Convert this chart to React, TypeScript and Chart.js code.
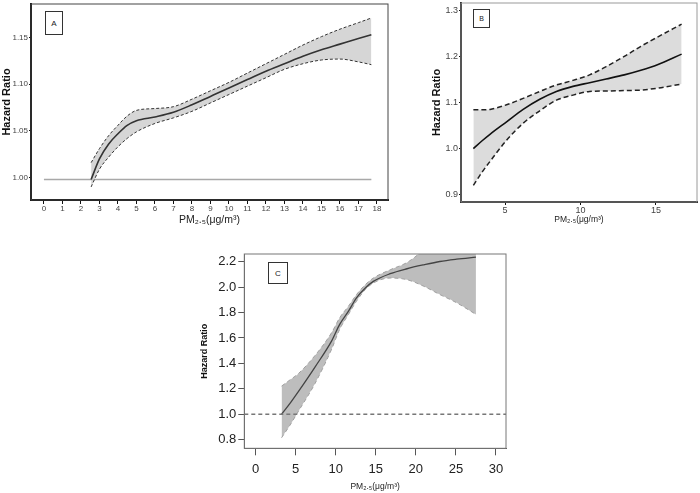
import React, { useEffect, useRef } from 'react';
import { Chart, registerables } from 'chart.js';

Chart.register(...registerables);
Chart.defaults.font.family = '"Liberation Sans", Arial, sans-serif';

// ---------- Panel A ----------
const aX = [2.55, 3, 3.5, 4, 4.5, 5, 6, 7, 8, 9, 10, 11, 12, 13, 14, 15, 16, 17, 17.7];
const aFit = [0.998, 1.020, 1.036, 1.047, 1.056, 1.061, 1.065, 1.070, 1.078, 1.087, 1.096, 1.105, 1.114, 1.122, 1.130, 1.137, 1.143, 1.149, 1.153];
const aUpper = [1.016, 1.031, 1.045, 1.056, 1.066, 1.072, 1.074, 1.076, 1.084, 1.093, 1.102, 1.112, 1.122, 1.132, 1.142, 1.151, 1.159, 1.166, 1.171];
const aLower = [0.990, 1.009, 1.022, 1.033, 1.042, 1.049, 1.058, 1.064, 1.071, 1.080, 1.089, 1.098, 1.107, 1.116, 1.122, 1.126, 1.127, 1.124, 1.121];
const aRefX = [0, 17.7];
const aRefY = [0.998, 0.998];
const aXTicks = [0, 1, 2, 3, 4, 5, 6, 7, 8, 9, 10, 11, 12, 13, 14, 15, 16, 17, 18];
const aYTicks = [1.0, 1.05, 1.1, 1.15];

// ---------- Panel B ----------
const bX = [2.9, 3.5, 4.0, 5.1, 6.2, 7.3, 8.4, 9.5, 10.6, 11.7, 12.9, 14.0, 15.1, 16.7];
const bFit = [1.000, 1.0175, 1.031, 1.058, 1.085, 1.107, 1.124, 1.135, 1.143, 1.151, 1.160, 1.170, 1.182, 1.205];
const bUpper = [1.084, 1.084, 1.085, 1.095, 1.109, 1.124, 1.138, 1.148, 1.160, 1.178, 1.200, 1.222, 1.242, 1.270];
const bLower = [0.920, 0.950, 0.972, 1.018, 1.055, 1.082, 1.105, 1.116, 1.124, 1.125, 1.126, 1.127, 1.131, 1.140];
const bXTicks = [5, 10, 15];
const bYTicks = [0.9, 1.0, 1.1, 1.2, 1.3];

// ---------- Panel C ----------
const cX = [3.25, 4.3, 5.3, 7.4, 9.5, 10.5, 11.6, 12.6, 13.7, 14.7, 16.8, 18.9, 21.0, 23.0, 25.1, 27.5];
const cFit = [1.000, 1.085, 1.174, 1.369, 1.577, 1.707, 1.811, 1.915, 1.993, 2.045, 2.105, 2.144, 2.175, 2.201, 2.219, 2.235];
const cUpper = [1.221, 1.270, 1.317, 1.460, 1.642, 1.759, 1.850, 1.941, 2.019, 2.071, 2.136, 2.193, 2.290, 2.380, 2.470, 2.600];
const cLower = [0.815, 0.914, 1.018, 1.239, 1.512, 1.668, 1.785, 1.889, 1.980, 2.032, 2.071, 2.058, 2.006, 1.941, 1.876, 1.785];
const cRef = 1.0;
const cXTicks = [0, 5, 10, 15, 20, 25, 30];
const cYTicks = [0.8, 1.0, 1.2, 1.4, 1.6, 1.8, 2.0, 2.2];

const xTitle = 'PM₂.₅(μg/m³)';
const yTitle = 'Hazard Ratio';

const pts = (xs: number[], ys: number[]) => xs.map((x, i) => ({ x, y: ys[i] }));

type PanelSpec = {
  w: number; h: number;
  pad: { left: number; right: number; top: number; bottom: number };
  yWidth: number; xHeight: number;
  xMin: number; xMax: number; yMin: number; yMax: number;
  xTicks: number[]; yTicks: number[]; yDec: number;
  tickSize: number; tickColor: string;
  xTickLen: number; xTickPad: number; yTickLen: number; yTickPad: number;
  yTitleSize: number; yTitlePad: number; xTitleSize: number; xTitlePad: number;
  axisWidth: number; axisColor: string; frameColor: string; frameWidth: number;
  datasets: any[];
  hline?: { value: number; color: string; dash: number[]; width: number };
};

function makeConfig(p: PanelSpec): any {
  const fixTicks = (list: number[]) => (s: any) => {
    s.ticks = list.map((v) => ({ value: v }));
  };
  const framePlugin = {
    id: 'frame',
    afterDatasetsDraw(chart: any) {
      const { ctx, chartArea: a, scales } = chart;
      if (p.hline) {
        const y = scales.y.getPixelForValue(p.hline.value);
        ctx.save();
        ctx.strokeStyle = p.hline.color;
        ctx.lineWidth = p.hline.width;
        ctx.setLineDash(p.hline.dash);
        ctx.beginPath();
        ctx.moveTo(a.left, y);
        ctx.lineTo(a.right, y);
        ctx.stroke();
        ctx.restore();
      }
    },
    afterDraw(chart: any) {
      const { ctx, chartArea: a } = chart;
      ctx.save();
      ctx.strokeStyle = p.frameColor;
      ctx.lineWidth = p.frameWidth;
      ctx.strokeRect(a.left, a.top, a.right - a.left, a.bottom - a.top);
      ctx.restore();
    },
  };
  return {
    type: 'line',
    data: { datasets: p.datasets },
    plugins: [framePlugin],
    options: {
      animation: false,
      responsive: false,
      devicePixelRatio: 1,
      layout: { padding: p.pad },
      plugins: { legend: { display: false }, tooltip: { enabled: false } },
      elements: { point: { radius: 0 } },
      scales: {
        x: {
          type: 'linear',
          min: p.xMin,
          max: p.xMax,
          afterBuildTicks: fixTicks(p.xTicks),
          afterFit: (s: any) => {
            s.height = p.xHeight;
            s.paddingLeft = 0; s.paddingRight = 0; s.paddingTop = 0; s.paddingBottom = 0;
          },
          ticks: {
            autoSkip: false, maxRotation: 0, padding: p.xTickPad,
            color: p.tickColor, font: { size: p.tickSize },
            callback: (v: any) => String(v),
          },
          grid: { drawOnChartArea: false, drawTicks: true, tickLength: p.xTickLen, color: p.axisColor },
          border: { display: true, width: p.axisWidth, color: p.axisColor },
          title: {
            display: true, text: xTitle, color: '#222',
            font: { size: p.xTitleSize }, padding: { top: 0, bottom: p.xTitlePad },
          },
        },
        y: {
          type: 'linear',
          min: p.yMin,
          max: p.yMax,
          afterBuildTicks: fixTicks(p.yTicks),
          afterFit: (s: any) => {
            s.width = p.yWidth;
            s.paddingLeft = 0; s.paddingRight = 0; s.paddingTop = 0; s.paddingBottom = 0;
          },
          ticks: {
            padding: p.yTickPad, color: p.tickColor, font: { size: p.tickSize },
            callback: (v: any) => Number(v).toFixed(p.yDec),
          },
          grid: { drawOnChartArea: false, drawTicks: true, tickLength: p.yTickLen, color: p.axisColor },
          border: { display: true, width: p.axisWidth, color: p.axisColor },
          title: {
            display: true, text: yTitle, color: '#111',
            font: { size: p.yTitleSize, weight: 'bold' }, padding: { top: p.yTitlePad, bottom: 0 },
          },
        },
      },
    },
  };
}

function bandSets(xs: number[], fit: number[], up: number[], lo: number[], s: {
  band: string; dashColor: string; dash: number[]; dashWidth: number; fitColor: string; fitWidth: number;
}) {
  return [
    {
      data: pts(xs, lo), borderColor: s.dashColor, borderDash: s.dash, borderWidth: s.dashWidth,
      cubicInterpolationMode: 'monotone', fill: false, order: 2,
    },
    {
      data: pts(xs, up), borderColor: s.dashColor, borderDash: s.dash, borderWidth: s.dashWidth,
      cubicInterpolationMode: 'monotone', fill: '-1', backgroundColor: s.band, order: 2,
    },
    {
      data: pts(xs, fit), borderColor: s.fitColor, borderWidth: s.fitWidth,
      cubicInterpolationMode: 'monotone', fill: false, order: 1,
    },
  ];
}

const specA: PanelSpec = {
  w: 392, h: 232,
  pad: { left: 0, right: 4, top: 4, bottom: 0 },
  yWidth: 31, xHeight: 32,
  xMin: -0.7, xMax: 18.6, yMin: 0.976, yMax: 1.186,
  xTicks: aXTicks, yTicks: aYTicks, yDec: 2,
  tickSize: 8, tickColor: '#444',
  xTickLen: 4, xTickPad: 0, yTickLen: 2, yTickPad: 1,
  yTitleSize: 11, yTitlePad: 0.5, xTitleSize: 10.5, xTitlePad: 6,
  axisWidth: 2, axisColor: '#111', frameColor: '#444', frameWidth: 1,
  datasets: [
    ...bandSets(aX, aFit, aUpper, aLower, {
      band: 'rgba(200,200,200,0.75)', dashColor: '#333', dash: [3, 2], dashWidth: 1,
      fitColor: '#333', fitWidth: 1.6,
    }),
    { data: pts(aRefX, aRefY), borderColor: '#a8a8a8', borderWidth: 1.5, fill: false, order: 3 },
  ],
};

const specB: PanelSpec = {
  w: 280, h: 232,
  pad: { left: 10, right: 3, top: 3, bottom: 0 },
  yWidth: 31, xHeight: 30,
  xMin: 2.08, xMax: 17.72, yMin: 0.884, yMax: 1.316,
  xTicks: bXTicks, yTicks: bYTicks, yDec: 1,
  tickSize: 9, tickColor: '#444',
  xTickLen: 3, xTickPad: 0, yTickLen: 2, yTickPad: 1,
  yTitleSize: 11, yTitlePad: 0, xTitleSize: 8.5, xTitlePad: 7,
  axisWidth: 2, axisColor: '#111', frameColor: '#9a9a9a', frameWidth: 1,
  datasets: bandSets(bX, bFit, bUpper, bLower, {
    band: '#dcdcdc', dashColor: '#222', dash: [5, 3], dashWidth: 1.5,
    fitColor: '#111', fitWidth: 1.6,
  }),
};

const specC: PanelSpec = {
  w: 330, h: 253,
  pad: { left: 0, right: 14, top: 14, bottom: 0 },
  yWidth: 54.3, xHeight: 44.7,
  xMin: -1.4, xMax: 31.25, yMin: 0.732, yMax: 2.26,
  xTicks: cXTicks, yTicks: cYTicks, yDec: 1,
  tickSize: 13, tickColor: '#222',
  xTickLen: 7, xTickPad: 6, yTickLen: 6, yTickPad: 2,
  yTitleSize: 9, yTitlePad: 9.6, xTitleSize: 8.5, xTitlePad: 1,
  axisWidth: 1, axisColor: '#555', frameColor: '#777', frameWidth: 1,
  datasets: bandSets(cX, cFit, cUpper, cLower, {
    band: '#bdbdbd', dashColor: '#a0a0a0', dash: [4, 3], dashWidth: 1,
    fitColor: '#444', fitWidth: 1.3,
  }),
  hline: { value: cRef, color: '#777', dash: [4, 3], width: 1.5 },
};

function Panel({ spec, left, top, label, box }: {
  spec: PanelSpec; left: number; top: number; label: string;
  box: { x: number; y: number; w: number; h: number; size: number };
}) {
  const ref = useRef<HTMLCanvasElement | null>(null);
  useEffect(() => {
    if (!ref.current) return;
    const chart = new Chart(ref.current, makeConfig(spec));
    return () => chart.destroy();
  }, [spec]);
  return (
    <>
      <canvas
        ref={ref}
        width={spec.w}
        height={spec.h}
        style={{ position: 'absolute', left, top, width: spec.w, height: spec.h }}
      />
      <div
        style={{
          position: 'absolute', left: box.x, top: box.y, width: box.w, height: box.h,
          border: '1px solid #333', boxSizing: 'border-box', background: '#fff',
          fontFamily: '"Liberation Sans", Arial, sans-serif', fontSize: box.size, color: '#222',
          display: 'flex', alignItems: 'center', justifyContent: 'center',
        }}
      >
        {label}
      </div>
    </>
  );
}

export default function App() {
  return (
    <div style={{ position: 'fixed', left: 0, top: 0, width: 700, height: 493, background: '#fff', overflow: 'hidden' }}>
      <Panel spec={specA} left={0} top={0} label="A" box={{ x: 45, y: 11, w: 18, h: 24, size: 8 }} />
      <Panel spec={specB} left={420} top={0} label="B" box={{ x: 473, y: 9, w: 17, h: 19, size: 7 }} />
      <Panel spec={specC} left={190} top={240} label="C" box={{ x: 268, y: 262, w: 20, h: 22, size: 8 }} />
    </div>
  );
}
